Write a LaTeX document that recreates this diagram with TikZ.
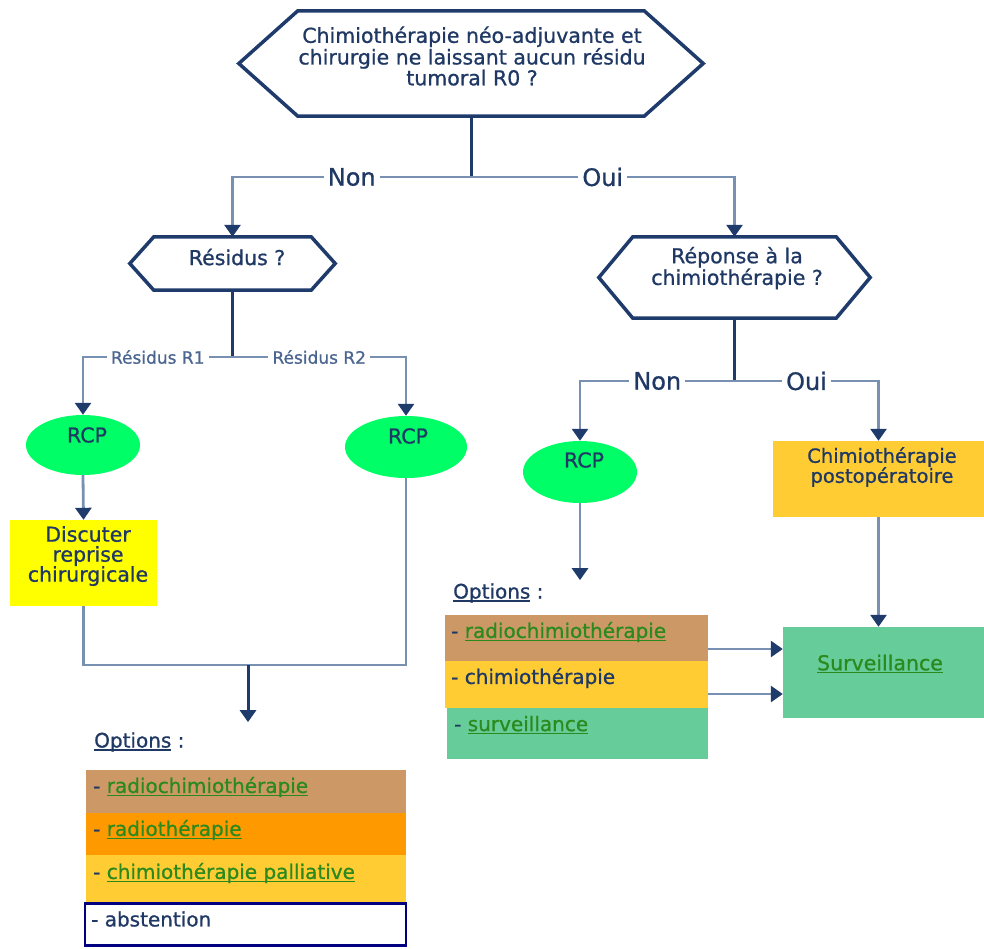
\documentclass[tikz,border=0pt]{standalone}
\usepackage{fontspec}
\setmainfont{DejaVu Sans}[FakeBold=0.8]
\usetikzlibrary{arrows.meta,shapes.geometric,calc}

\definecolor{navy}{HTML}{1F3B6B}
\definecolor{ink}{HTML}{1F3864}
\definecolor{steel}{HTML}{7890B2}
\definecolor{smalllab}{HTML}{4A6590}
\definecolor{rcpgreen}{HTML}{00FF66}
\definecolor{brightyellow}{HTML}{FFFF00}
\definecolor{gold}{HTML}{FFCC33}
\definecolor{tan}{HTML}{CC9966}
\definecolor{deeporange}{HTML}{FF9900}
\definecolor{mint}{HTML}{66CC99}
\definecolor{linkgreen}{HTML}{2A8A1E}
\definecolor{framenavy}{HTML}{000080}

% underline drawn as a rule in the current colour
\newcommand\undl[1]{\leavevmode\setbox0=\hbox{#1}\rlap{\rule[-3pt]{\wd0}{1.3pt}}\box0\relax}
\newcommand\lnk[1]{{\color{linkgreen}\undl{#1}}}
% hexagonal decision outline drawn around an invisible box node
\newcommand\hexpath[2]{%
  \draw[hexline] (#1.west) -- ([xshift=#2]#1.north west) -- ([xshift=-#2]#1.north east)
    -- (#1.east) -- ([xshift=-#2]#1.south east) -- ([xshift=#2]#1.south west) -- cycle;}

\begin{document}
\begin{tikzpicture}[x=1pt,y=-1pt,
  txt/.style={text=ink, inner sep=0pt, align=center, font=\fontsize{20.5}{19.5}\selectfont},
  rowtxt/.style={text=ink, inner sep=0pt, anchor=west, font=\fontsize{20}{20}\selectfont},
  hexbox/.style={inner sep=0pt, draw=none},
  hexline/.style={draw=navy, line width=3.5pt, line join=miter, fill=white},
  trunk/.style={draw=navy, line width=3pt},
  branch/.style={draw=steel, line width=2.8pt},
  arr/.style={-{Triangle[color=navy,width=16pt,length=12pt]}},
  edgelab/.style={fill=white, text=ink, inner xsep=4pt, inner ysep=0pt, font=\fontsize{24}{24}\selectfont},
  smalllab/.style={fill=white, text=smalllab, inner xsep=4pt, inner ysep=0pt, font=\fontsize{17}{17}\selectfont},
  rcp/.style={ellipse, fill=rcpgreen, inner sep=0pt},
  box/.style={rectangle, inner sep=0pt},
]
\useasboundingbox (0,0) rectangle (984,948);

% ---- decision hexagons
\node[hexbox, minimum width=464pt, minimum height=105pt] (q0) at (471,63.5) {};
\hexpath{q0}{59pt}
\node[txt] (q0t) at (472,56) {Chimiothérapie néo-adjuvante et\\chirurgie ne laissant aucun résidu\\tumoral R0 ?};

\node[hexbox, minimum width=205pt, minimum height=53pt] (q1) at (232.5,263.5) {};
\hexpath{q1}{24pt}
\node[txt] (q1t) at (237,257) {Résidus ?};

\node[hexbox, minimum width=271pt, minimum height=81pt] (q2) at (734.5,277.5) {};
\hexpath{q2}{34pt}
\node[txt] (q2t) at (737,268) {Réponse à la\\chimiothérapie ?};

% ---- RCP ellipses
\node[rcp, minimum width=114pt, minimum height=60pt] (r1) at (83,445) {};
\node[txt] (r1t) at (87,435) {RCP};
\node[rcp, minimum width=122pt, minimum height=62pt] (r2) at (406,447) {};
\node[txt] (r2t) at (408,436) {RCP};
\node[rcp, minimum width=114pt, minimum height=62pt] (r3) at (580,472) {};
\node[txt] (r3t) at (584,460) {RCP};

% ---- action boxes
\node[box, fill=brightyellow, minimum width=147pt, minimum height=86pt] (d1) at (83.5,563) {};
\node[txt, font=\fontsize{20.5}{20}\selectfont] (d1t) at (88,556) {Discuter\\reprise\\chirurgicale};
\node[box, fill=gold, minimum width=211pt, minimum height=76pt] (c1) at (878.5,479) {};
\node[txt, font=\fontsize{19.5}{20}\selectfont] (c1t) at (882,467) {Chimiothérapie\\postopératoire};
\node[box, fill=mint, minimum width=201pt, minimum height=91pt] (s1) at (883.5,672.5) {};
\node[txt] (s1t) at (880,664) {\lnk{Surveillance}};

% ---- options, right column
\node[rowtxt] (o2) at (453,593) {\undl{Options} :};
\node[box, fill=tan, minimum width=263pt, minimum height=46pt] (ra) at (576.5,638) {};
\node[rowtxt] (rat) at (451,632) {- \lnk{radiochimiothérapie}};
\node[box, fill=gold, minimum width=263pt, minimum height=47pt] (rb) at (576.5,684.5) {};
\node[rowtxt] (rbt) at (451,678) {- chimiothérapie};
\node[box, fill=mint, minimum width=261pt, minimum height=51pt] (rc) at (577.5,733.5) {};
\node[rowtxt] (rct) at (454,725) {- \lnk{surveillance}};

% ---- options, left column
\node[rowtxt] (o1) at (94,742) {\undl{Options} :};
\node[box, fill=tan, minimum width=320pt, minimum height=43pt] (la) at (246,791.5) {};
\node[rowtxt] (lat) at (93,787) {- \lnk{radiochimiothérapie}};
\node[box, fill=deeporange, minimum width=320pt, minimum height=42pt] (lb) at (246,834) {};
\node[rowtxt] (lbt) at (93,830) {- \lnk{radiothérapie}};
\node[box, fill=gold, minimum width=320pt, minimum height=47pt] (lc) at (246,878.5) {};
\node[rowtxt] (lct) at (93,873) {- \lnk{chimiothérapie palliative}};
\node[box, draw=framenavy, line width=2.5pt, fill=white, minimum width=321pt, minimum height=42pt] (ld) at (245.5,924.5) {};
\node[rowtxt] (ldt) at (91,919) {- abstention};

% ---- junction points
\coordinate (j0) at (471,177);
\coordinate (j1) at (232.5,357);
\coordinate (j2) at (734.5,381);
\coordinate (jm) at (248,665);

% ---- connectors
\draw[trunk] (q0.south) -- (j0);
\draw[branch, arr] (j0) -| node[edgelab, pos=0.25] (l0n) {Non} (q1.north);
\draw[branch, arr] (j0) -| node[edgelab, pos=0.25] (l0o) {Oui} (q2.north);

\draw[trunk] (q1.south) -- (j1);
\draw[branch, arr] (j1) -| node[smalllab, pos=0.25] (l1a) {Résidus R1} (r1.north);
\draw[branch, arr] (j1) -| node[smalllab, pos=0.25] (l1b) {Résidus R2} (r2.north);

\draw[trunk] (q2.south) -- (j2);
\draw[branch, arr] (j2) -| node[edgelab, pos=0.25] (l2n) {Non} (r3.north);
\draw[branch, arr] (j2) -| node[edgelab, pos=0.25] (l2o) {Oui} (c1.north);

\draw[branch, arr] (r1.south) -- (d1.north);
\draw[branch] (d1.south) |- (jm);
\draw[branch] (r2.south) |- (jm);
\draw[trunk, arr, shorten >=10pt] (jm) -- (jm |- o1.north);

\draw[branch, arr, shorten >=3pt] (r3.south) -- (r3.south |- o2.north);
\draw[branch, arr] (c1.south) -- (c1.south |- s1.north);
\draw[branch, arr] ([yshift=-11pt]ra.east) -- ([yshift=-11pt]ra.east -| s1.west);
\draw[branch, arr] ([yshift=-9.5pt]rb.east) -- ([yshift=-9.5pt]rb.east -| s1.west);
\end{tikzpicture}
\end{document}
